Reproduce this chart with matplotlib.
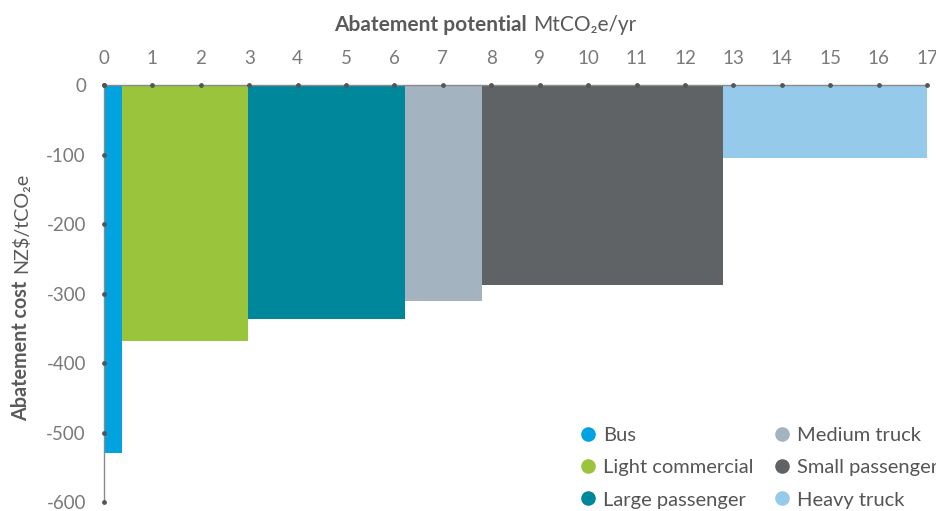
import numpy as np
import matplotlib.pyplot as plt
from matplotlib.lines import Line2D

plt.rcParams['font.family'] = ['Lato', 'DejaVu Sans']
plt.rcParams['axes.unicode_minus'] = False

# data
segments = ['Bus', 'Light commercial', 'Large passenger', 'Medium truck',
            'Small passenger', 'Heavy truck']
potential = [0.37, 2.6, 3.25, 1.59, 4.98, 4.21]     # MtCO2e/yr (bar widths)
cost = [-529, -369, -336, -311, -288, -105]         # NZ$/tCO2e (bar heights)
colors = ['#00a3e0', '#99c43c', '#00879b', '#a3b3bf', '#606366', '#95caea']
xticks = list(range(0, 18))
yticks = [0, -100, -200, -300, -400, -500, -600]

text_col = '#5a5a5a'
axis_col = '#8a8a8a'

fig = plt.figure(figsize=(9.37, 5.11), dpi=100)
ax = fig.add_axes([104 / 937, 1 - 502 / 511, 823 / 937, 417 / 511])

lefts = np.concatenate([[0], np.cumsum(potential)[:-1]])
ax.bar(lefts, cost, width=potential, align='edge', color=colors, linewidth=0)

ax.set_xlim(0, 17)
ax.set_ylim(-600, 0)
ax.xaxis.tick_top()
ax.set_xticks(xticks)
ax.set_yticks(yticks)
ax.tick_params(length=0, labelsize=13.5, labelcolor='#7a7a7a')
ax.tick_params(axis='x', pad=13)
ax.tick_params(axis='y', pad=13)

for s in ['right', 'bottom']:
    ax.spines[s].set_visible(False)
for s in ['top', 'left']:
    ax.spines[s].set_color(axis_col)
    ax.spines[s].set_linewidth(1)

# dot tick markers
ax.scatter(xticks, [0] * len(xticks), s=6, color='#555555', clip_on=False, zorder=5)
ax.scatter([0] * len(yticks), yticks, s=6, color='#555555', clip_on=False, zorder=5)

# axis titles with bold + regular parts
fig.text(527 / 937, 1 - 25 / 511, 'Abatement potential', ha='right', va='center',
         fontsize=15, fontweight='bold', color=text_col)
fig.text(533 / 937, 1 - 25 / 511, 'MtCO₂e/yr', ha='left', va='center',
         fontsize=15, color=text_col)
fig.text(21 / 937, 1 - 281 / 511, 'Abatement cost', ha='center', va='top',
         rotation=90, fontsize=14.2, fontweight='bold', color=text_col)
fig.text(21 / 937, 1 - 273 / 511, 'NZ$/tCO₂e', ha='center', va='bottom',
         rotation=90, fontsize=14.2, color=text_col)

handles = [Line2D([], [], marker='o', linestyle='none', markersize=10.5,
                  markerfacecolor=c, markeredgewidth=0) for c in colors]
fig.legend(handles, segments, ncol=2, frameon=False, fontsize=14.5,
           loc='upper left', bbox_to_anchor=(580 / 937, 1 - 427 / 511),
           labelcolor='#555555', handlelength=0.8, handletextpad=0.35,
           columnspacing=1.0, labelspacing=0.75, borderpad=0, borderaxespad=0)

fig.savefig('out.png', dpi=100)
